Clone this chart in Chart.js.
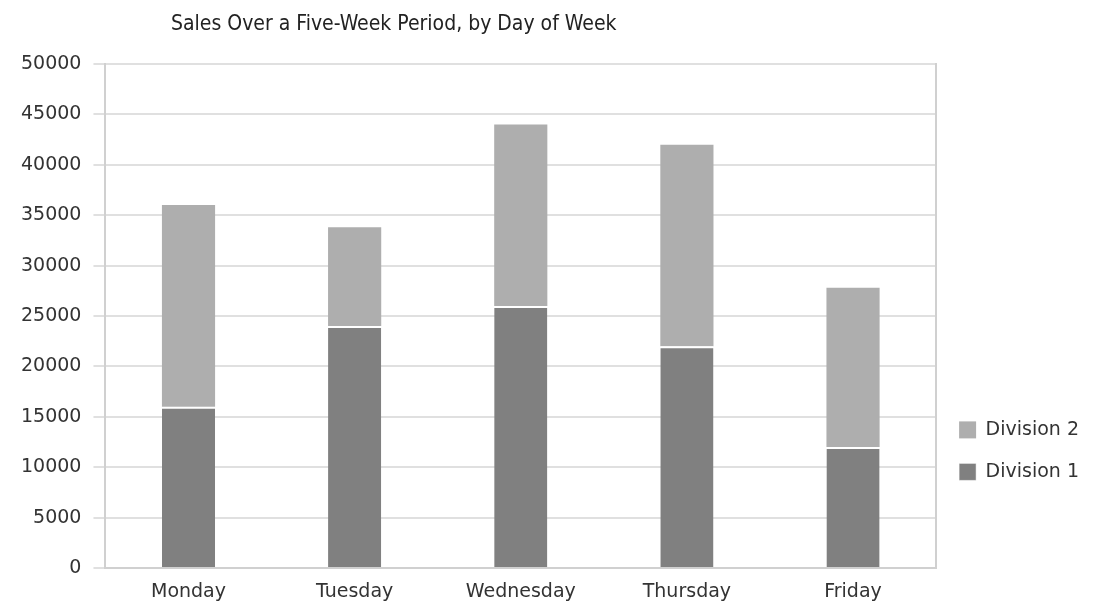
<!DOCTYPE html>
<html>
<head>
<meta charset="utf-8">
<script src="https://cdn.jsdelivr.net/npm/chart.js@4"></script>
<style>
  html, body { margin: 0; padding: 0; background: #fff; }
  #wrap { width: 1099px; height: 606px; position: relative; }
</style>
</head>
<body>
<div id="wrap"><canvas id="salesChart"></canvas></div>
<script>
const days = ['Monday', 'Tuesday', 'Wednesday', 'Thursday', 'Friday'];
const division1 = [16000, 24000, 26000, 22000, 12000];
const division2 = [20000, 9800, 18000, 20000, 15800];
const chartTitle = 'Sales Over a Five-Week Period, by Day of Week';

const textColor = '#333333';
const gridColor = '#e0e0e0';
const axisColor = '#d0d0d0';
const tickFont = { family: "'DejaVu Sans', sans-serif", size: 19 };

// title sits left of centre in the original, so it is drawn by hand
const titlePlugin = {
  id: 'leftTitle',
  afterDraw(chart) {
    const ctx = chart.ctx;
    ctx.save();
    ctx.font = "21px 'Liberation Sans Narrow', 'DejaVu Sans Condensed', sans-serif";
    ctx.fillStyle = '#222222';
    ctx.textAlign = 'left';
    ctx.textBaseline = 'alphabetic';
    ctx.fillText(chartTitle, 171, 30);
    ctx.restore();
  }
};

new Chart(document.getElementById('salesChart'), {
  type: 'bar',
  data: {
    labels: days,
    datasets: [
      {
        label: 'Division 1',
        data: division1,
        backgroundColor: '#808080',
        borderColor: '#ffffff',
        borderWidth: { top: 2, left: 0, right: 0, bottom: 0 },
        borderSkipped: false,
        categoryPercentage: 0.8,
        barPercentage: 0.4
      },
      {
        label: 'Division 2',
        data: division2,
        backgroundColor: '#aeaeae',
        borderWidth: 0,
        categoryPercentage: 0.8,
        barPercentage: 0.4
      }
    ]
  },
  options: {
    responsive: true,
    maintainAspectRatio: false,
    animation: false,
    layout: { padding: { top: 64, left: 9, right: 10, bottom: 0 } },
    plugins: {
      title: { display: false },
      tooltip: { enabled: false },
      legend: {
        position: 'right',
        align: 'start',
        fullSize: false,
        reverse: true,
        title: { display: true, text: '', padding: { top: 319, bottom: 0 } },
        labels: {
          boxWidth: 17,
          boxHeight: 17,
          padding: 23,
          color: textColor,
          font: tickFont
        }
      }
    },
    scales: {
      x: {
        stacked: true,
        grid: { display: false, drawTicks: false },
        border: { display: true, color: axisColor, width: 2 },
        ticks: { color: textColor, padding: 13, font: tickFont },
        afterFit(scale) { scale.height = 38; }
      },
      y: {
        stacked: true,
        min: 0,
        max: 50000,
        grid: { color: gridColor, lineWidth: 2, tickLength: 12 },
        border: { display: true, color: axisColor, width: 2 },
        ticks: {
          stepSize: 5000,
          color: textColor,
          padding: 12,
          font: tickFont,
          callback: v => String(v)
        }
      },
      y2: {
        position: 'right',
        min: 0,
        max: 50000,
        grid: { display: false, drawTicks: false },
        border: { display: true, color: axisColor, width: 2 },
        ticks: { display: false }
      }
    }
  },
  plugins: [titlePlugin]
});
</script>
</body>
</html>
